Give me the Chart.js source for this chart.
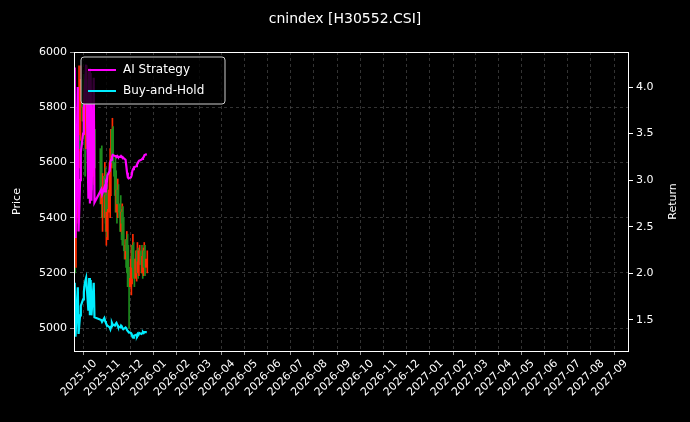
<!DOCTYPE html>
<html><head><meta charset="utf-8">
<script src="https://cdn.jsdelivr.net/npm/chart.js@4"></script>
<style>html,body{margin:0;padding:0;background:#000;}#w{width:690px;height:422px;}</style>
</head><body><div id="w"><canvas id="c"></canvas></div>
<script>
const dates = ['2025-09-04','2025-09-05','2025-09-08','2025-09-09','2025-09-10','2025-09-11','2025-09-12','2025-09-15','2025-09-16','2025-09-17','2025-09-18','2025-09-19','2025-09-22','2025-09-23','2025-09-24','2025-09-25','2025-09-26','2025-09-29','2025-09-30',
'2025-10-09','2025-10-10','2025-10-13','2025-10-14','2025-10-15','2025-10-16','2025-10-17','2025-10-20','2025-10-21','2025-10-22','2025-10-23','2025-10-24','2025-10-27','2025-10-28','2025-10-29','2025-10-30','2025-10-31',
'2025-11-03','2025-11-04','2025-11-05','2025-11-06','2025-11-07','2025-11-10','2025-11-11','2025-11-12','2025-11-13','2025-11-14','2025-11-17','2025-11-18','2025-11-19','2025-11-20','2025-11-21','2025-11-24','2025-11-25','2025-11-26','2025-11-27','2025-11-28',
'2025-12-01','2025-12-02','2025-12-03','2025-12-04','2025-12-05','2025-12-08'];
const openP = [5300,5250,5400,5600,5800,5700,5850,5900,5750,5800,5700,5850,5900,5650,5800,5600,5750,5550,5700,
5650,5450,5500,5550,5400,5480,5350,5420,5500,5600,5650,5720,5600,5550,5480,5420,5500,
5450,5400,5350,5420,5380,5300,5250,5320,5280,5200,5150,5180,5250,5300,5220,5180,5250,5280,5200,5240,
5280,5230,5200,5260,5280,5220];
const closeP = [5250,5400,5600,5800,5700,5850,5900,5750,5800,5700,5850,5900,5650,5800,5600,5750,5550,5700,5650,
5450,5500,5550,5400,5480,5350,5420,5500,5600,5650,5720,5600,5550,5480,5420,5500,5450,
5400,5350,5420,5380,5300,5250,5320,5280,5200,5150,5180,5250,5300,5220,5180,5250,5280,5200,5240,5280,
5230,5200,5260,5280,5220,5250];
const highP = [5350,5450,5650,5950,5850,5900,5950,5920,5880,5850,5900,5950,5920,5850,5830,5800,5780,5750,5720,
5660,5560,5600,5580,5500,5520,5430,5520,5650,5700,5760,5730,5620,5570,5500,5540,5520,
5480,5430,5450,5440,5400,5320,5350,5340,5300,5220,5200,5270,5340,5310,5250,5270,5310,5290,5260,5300,
5300,5260,5290,5310,5300,5280];
const lowP = [5200,5220,5380,5580,5650,5680,5800,5700,5700,5550,5650,5800,5600,5600,5550,5580,5500,5520,5580,
5400,5350,5450,5380,5300,5330,5320,5400,5480,5580,5620,5580,5500,5450,5380,5400,5420,
5380,5320,5340,5360,5280,5220,5240,5260,5180,5000,5120,5160,5230,5200,5150,5170,5230,5180,5190,5230,
5200,5180,5190,5240,5190,5200];
const aiReturn = [4.21,2.38,4.0,2.45,2.7,3.0,3.3,3.5,3.75,3.95,4.1,4.24,2.8,4.2,2.75,4.15,2.78,4.1,2.76,
2.90,2.85,2.92,2.88,2.97,2.95,3.05,3.1,3.2,3.22,3.25,3.27,3.26,3.26,3.25,3.26,3.25,
3.25,3.26,3.25,3.25,3.24,3.22,3.15,3.08,3.03,3.02,3.03,3.05,3.1,3.12,3.14,3.15,3.17,3.18,3.2,3.21,
3.22,3.23,3.24,3.25,3.27,3.28];
const bhReturn = [1.90,1.32,1.85,1.35,1.45,1.55,1.65,1.72,1.8,1.88,1.92,1.95,1.6,1.95,1.55,1.93,1.55,1.9,1.53,
1.50,1.48,1.52,1.49,1.47,1.45,1.44,1.42,1.40,1.43,1.47,1.45,1.44,1.46,1.47,1.45,1.43,
1.42,1.44,1.43,1.41,1.40,1.42,1.41,1.39,1.38,1.37,1.36,1.35,1.32,1.31,1.33,1.34,1.33,1.35,1.34,1.36,
1.35,1.36,1.37,1.36,1.37,1.37];
const priceTicks = [5000,5200,5400,5600,5800,6000];
const returnTicks = [1.5,2.0,2.5,3.0,3.5,4.0];
const monthTicks = ['2025-10','2025-11','2025-12','2026-01','2026-02','2026-03','2026-04','2026-05','2026-06','2026-07','2026-08','2026-09','2026-10','2026-11','2026-12','2027-01','2027-02','2027-03','2027-04','2027-05','2027-06','2027-07','2027-08','2027-09'];

const day = s => Date.UTC(+s.slice(0,4), +s.slice(5,7)-1, s.length>7?+s.slice(8,10):1)/86400000;
const xs = dates.map(day);
const col = dates.map((d,i)=>closeP[i]>=openP[i]?'#ff2a00':'#1e8c1e');
const F = '"DejaVu Sans"';

const bgPlugin = {id:'bg', beforeDraw(ch){const c=ch.ctx;c.save();c.fillStyle='#000';c.fillRect(0,0,ch.width,ch.height);c.restore();},
 afterDraw(ch){const c=ch.ctx, a=ch.chartArea;c.save();
  c.fillStyle='#fff';c.font='14px '+F;c.textAlign='center';c.textBaseline='middle';
  c.fillText('cnindex [H30552.CSI]',345,19);
  c.font='11px '+F;
  c.save();c.translate(17,(a.top+a.bottom)/2);c.rotate(-Math.PI/2);c.fillText('Price',0,0);c.restore();
  c.save();c.translate(673,(a.top+a.bottom)/2);c.rotate(-Math.PI/2);c.fillText('Return',0,0);c.restore();
  c.strokeStyle='#fff';c.lineWidth=1;c.strokeRect(a.left+0.5,a.top+0.5,a.right-a.left-1,a.bottom-a.top);
  const lx=a.left+7, ly=a.top+5, w=144, h=47;
  c.fillStyle='rgba(0,0,0,0.8)';c.strokeStyle='#ccc';c.beginPath();c.roundRect(lx,ly,w,h,3);c.fill();c.stroke();
  const items=[['AI Strategy','#ff00ff'],['Buy-and-Hold','#00eeff']];
  c.font='12px '+F;c.textAlign='left';
  items.forEach((it,i)=>{const yy=ly+13+i*21;c.strokeStyle=it[1];c.lineWidth=2;c.beginPath();c.moveTo(lx+7,yy);c.lineTo(lx+35,yy);c.stroke();c.fillStyle='#fff';c.fillText(it[0],lx+42,yy);});
  c.restore();}};

new Chart(document.getElementById('c'),{
 data:{datasets:[
  {type:'bar',data:xs.map((x,i)=>({x:x,y:[lowP[i],highP[i]]})),backgroundColor:col,barThickness:1,yAxisID:'y',order:3},
  {type:'bar',data:xs.map((x,i)=>({x:x,y:[Math.min(openP[i],closeP[i]),Math.max(openP[i],closeP[i])]})),backgroundColor:col,barThickness:1.5,minBarLength:1,yAxisID:'y',order:2},
  {type:'line',label:'AI Strategy',data:xs.map((x,i)=>({x:x,y:aiReturn[i]})),borderColor:'#ff00ff',borderWidth:2.2,pointRadius:0,yAxisID:'y1',order:1},
  {type:'line',label:'Buy-and-Hold',data:xs.map((x,i)=>({x:x,y:bhReturn[i]})),borderColor:'#00eeff',borderWidth:2.2,pointRadius:0,yAxisID:'y1',order:0}
 ]},
 options:{responsive:true,maintainAspectRatio:false,animation:false,
  layout:{padding:{top:52,left:0,right:0,bottom:0}},
  plugins:{legend:{display:false},tooltip:{enabled:false}},
  scales:{
   x:{type:'linear',min:day('2025-09-03'),max:day('2027-09-05'),offset:false,
    afterBuildTicks:s=>{s.ticks=monthTicks.map(m=>({value:day(m)}));},
    afterFit:s=>{s.height=71;},
    ticks:{color:'#fff',font:{size:11,family:'DejaVu Sans'},maxRotation:45,minRotation:45,autoSkip:false,padding:2,
      callback:v=>{const d=new Date(v*86400000);return d.getUTCFullYear()+'-'+String(d.getUTCMonth()+1).padStart(2,'0');}},
    grid:{color:'#555',lineWidth:0.6,tickColor:'#fff',tickLength:4},border:{display:false,dash:[3,3]}},
   y:{position:'left',min:4917,max:6000,afterFit:s=>{s.width=74;},
    afterBuildTicks:s=>{s.ticks=priceTicks.map(v=>({value:v}));},
    ticks:{color:'#fff',font:{size:11,family:'DejaVu Sans'},padding:3,callback:v=>String(v)},
    grid:{color:'#555',lineWidth:0.6,tickColor:'#fff',tickLength:4},border:{display:false,dash:[3,3]}},
   y1:{position:'right',min:1.167,max:4.376,afterFit:s=>{s.width=61;},
    afterBuildTicks:s=>{s.ticks=returnTicks.map(v=>({value:v}));},
    ticks:{color:'#fff',font:{size:11,family:'DejaVu Sans'},padding:3,callback:v=>v.toFixed(1)},
    grid:{drawOnChartArea:false,tickColor:'#fff',tickLength:4},border:{display:false}}
  }}
 ,plugins:[bgPlugin]});
</script></body></html>
